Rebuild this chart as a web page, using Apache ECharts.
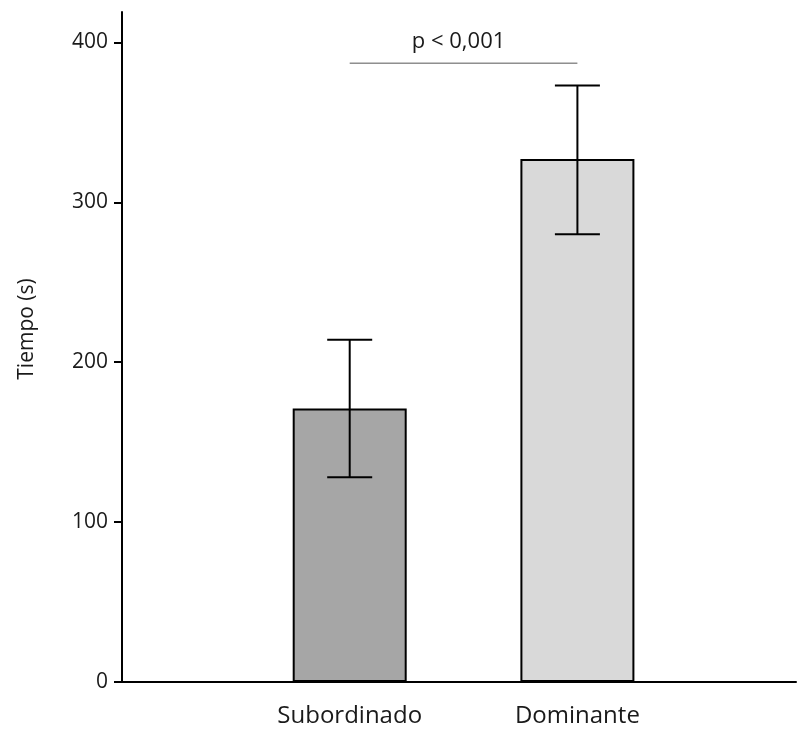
<!DOCTYPE html>
<html>
<head>
<meta charset="utf-8">
<script src="https://cdn.jsdelivr.net/npm/echarts@6/dist/echarts.min.js"></script>
<style>html,body{margin:0;padding:0;background:#fff}#c{width:797px;height:738px}</style>
</head>
<body>
<div id="c"></div>
<script>
var categories = ['Subordinado', 'Dominante'];
var categoryPos = [1, 2];
var means = [171, 327];
var errLow = [128, 280];
var errHigh = [214, 373];
var barColors = ['#a6a6a6', '#d9d9d9'];
var sigLabel = 'p < 0,001';
var sigLevel = 387;
var yTicks = [0, 100, 200, 300, 400];

var font = 'Open Sans';
var chart = echarts.init(document.getElementById('c'));

var barData = means.map(function (m, i) {
  return { value: [categoryPos[i], m], itemStyle: { color: barColors[i] } };
});
var errData = means.map(function (m, i) { return [categoryPos[i], errLow[i], errHigh[i]]; });

chart.setOption({
  animation: false,
  grid: { left: 122, right: 1, top: 12, bottom: 56 },
  xAxis: {
    type: 'value', min: 0, max: 2.96, interval: 1,
    axisLine: { lineStyle: { color: '#000', width: 2 } },
    axisTick: { show: false },
    splitLine: { show: false },
    axisLabel: {
      margin: 22, fontFamily: font, fontSize: 24, color: '#1a1a1a',
      showMinLabel: false, showMaxLabel: false,
      formatter: function (v) {
        var idx = categoryPos.indexOf(Math.round(v));
        return Math.abs(v - Math.round(v)) < 1e-6 && idx >= 0 ? categories[idx] : '';
      }
    }
  },
  yAxis: {
    type: 'value', min: 0, max: 419, interval: 100,
    name: 'Tiempo (s)', nameLocation: 'middle', nameGap: 84, nameRotate: 90,
    nameTextStyle: { fontFamily: font, fontSize: 21, color: '#1a1a1a', padding: [0, 0, 0, 36] },
    axisLine: { show: true, lineStyle: { color: '#000', width: 2 } },
    axisTick: { show: true, length: 8, lineStyle: { color: '#000', width: 2 } },
    splitLine: { show: false },
    axisLabel: {
      margin: 14, fontFamily: font, fontSize: 21, color: '#1a1a1a',
      showMaxLabel: false,
      formatter: function (v) { return yTicks.indexOf(v) >= 0 ? String(v) : ''; }
    }
  },
  series: [
    {
      type: 'bar', data: barData, barWidth: 114,
      itemStyle: { borderColor: '#000', borderWidth: 2 }
    },
    {
      type: 'custom', data: errData, z: 5,
      renderItem: function (params, api) {
        var x = api.value(0);
        var lo = api.coord([x, api.value(1)]);
        var hi = api.coord([x, api.value(2)]);
        var hw = 22.5;
        var st = { stroke: '#000', lineWidth: 2 };
        return { type: 'group', children: [
          { type: 'line', shape: { x1: lo[0], y1: lo[1], x2: hi[0], y2: hi[1] }, style: st },
          { type: 'line', shape: { x1: lo[0] - hw, y1: lo[1], x2: lo[0] + hw, y2: lo[1] }, style: st },
          { type: 'line', shape: { x1: hi[0] - hw, y1: hi[1], x2: hi[0] + hw, y2: hi[1] }, style: st }
        ]};
      }
    },
    {
      type: 'custom', data: [[categoryPos[0], categoryPos[1], sigLevel]], z: 5,
      renderItem: function (params, api) {
        var a = api.coord([api.value(0), api.value(2)]);
        var b = api.coord([api.value(1), api.value(2)]);
        return { type: 'group', children: [
          { type: 'line', shape: { x1: a[0], y1: a[1], x2: b[0], y2: b[1] }, style: { stroke: '#555', lineWidth: 1 } },
          { type: 'text', x: (a[0] + b[0]) / 2 - 5, y: a[1] - 21,
            style: { text: sigLabel, fontFamily: font, fontSize: 22, fill: '#1a1a1a', align: 'center', verticalAlign: 'middle' } }
        ]};
      }
    }
  ]
});
</script>
</body>
</html>
